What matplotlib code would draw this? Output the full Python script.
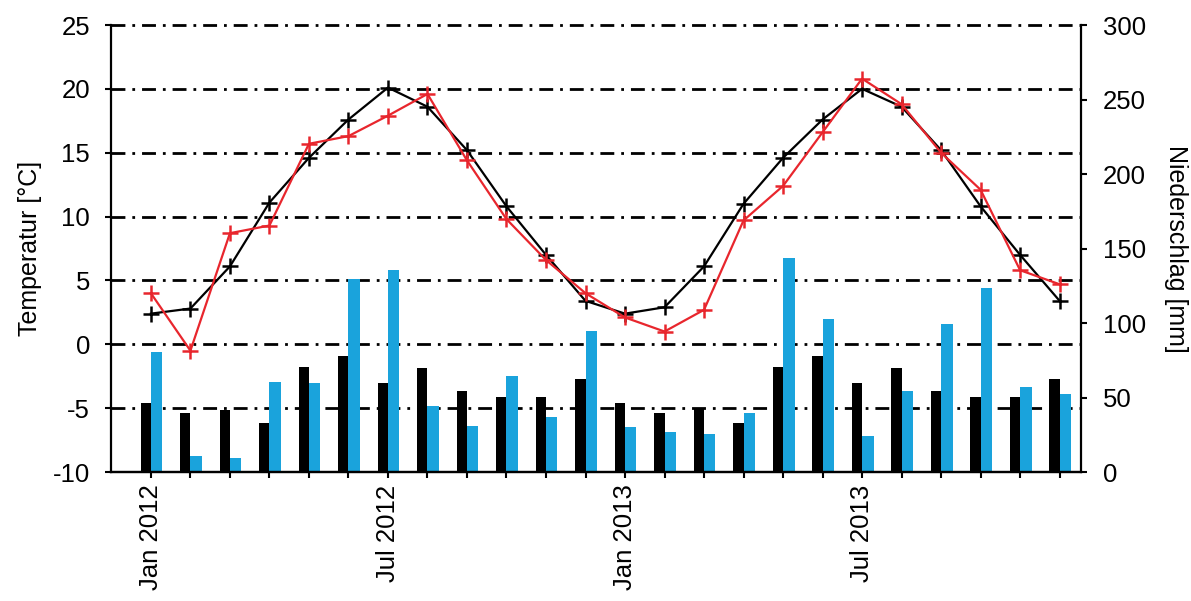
import matplotlib.pyplot as plt
from matplotlib.transforms import blended_transform_factory

plt.switch_backend('agg')
plt.rcParams['font.family'] = ['Liberation Sans', 'DejaVu Sans']
plt.rcParams['axes.unicode_minus'] = False

# Monthly values Jan 2012 .. Dec 2013
months = ['Jan 2012', 'Feb 2012', 'Mar 2012', 'Apr 2012', 'May 2012', 'Jun 2012',
          'Jul 2012', 'Aug 2012', 'Sep 2012', 'Oct 2012', 'Nov 2012', 'Dec 2012',
          'Jan 2013', 'Feb 2013', 'Mar 2013', 'Apr 2013', 'May 2013', 'Jun 2013',
          'Jul 2013', 'Aug 2013', 'Sep 2013', 'Oct 2013', 'Nov 2013', 'Dec 2013']
shown_labels = ['Jan 2012', 'Jul 2012', 'Jan 2013', 'Jul 2013']

# temperature [°C]: long-term mean (black) and measured (red)
temp_mean = [2.4, 2.8, 6.1, 11.1, 14.6, 17.6, 20.1, 18.6, 15.2, 10.8, 7.0, 3.4,
             2.4, 2.9, 6.1, 11.0, 14.6, 17.6, 20.0, 18.6, 15.2, 10.8, 7.0, 3.4]
temp_actual = [4.0, -0.5, 8.7, 9.3, 15.7, 16.3, 17.9, 19.6, 14.4, 9.8, 6.6, 4.0,
               2.1, 1.0, 2.7, 9.7, 12.4, 16.6, 20.8, 18.8, 15.0, 12.1, 5.8, 4.7]

# precipitation [mm]: long-term mean (black) and measured (blue)
precip_mean = [46.5, 39.4, 41.6, 32.7, 70.7, 77.9, 60.0, 69.6, 54.6, 50.5, 50.5, 62.6,
               46.5, 39.4, 42.7, 32.7, 70.7, 77.9, 60.0, 69.6, 54.6, 50.5, 50.5, 62.6]
precip_actual = [80.3, 11.0, 9.2, 60.6, 60.0, 129.3, 135.6, 44.3, 30.9, 64.4, 37.1, 94.8,
                 30.0, 27.1, 25.5, 39.8, 143.4, 102.7, 24.4, 54.6, 99.3, 123.3, 56.8, 52.3]

temp_ticks = [-10, -5, 0, 5, 10, 15, 20, 25]
precip_ticks = [0, 50, 100, 150, 200, 250, 300]

BLUE = '#1aa3dc'
RED = '#e8262d'

fig = plt.figure(figsize=(11.91, 6.01), dpi=100)
ax = fig.add_axes([0.0932, 0.2146, 0.8144, 0.7438])
ax2 = ax.twinx()

# temperature axis on top of the bar axis so the lines cover the bars
ax.set_zorder(2)
ax2.set_zorder(1)
ax.patch.set_visible(False)

x = list(range(len(months)))

# precipitation bars
ax2.bar(x, precip_mean, width=-0.26, align='edge', color='black', zorder=2)
ax2.bar(x, precip_actual, width=0.29, align='edge', color=BLUE, zorder=2)
ax2.set_ylim(0, 300)
ax2.set_yticks(precip_ticks)

# dash-dot grid at the temperature ticks, drawn behind the bars
grid_tf = blended_transform_factory(ax2.transAxes, ax.transData)
for t in temp_ticks[1:]:
    ax2.plot([0, 1], [t, t], transform=grid_tf, color='black', linewidth=2.0,
             linestyle=(0, (5, 2.5, 1, 2.5)), zorder=1, clip_on=False)

# temperature lines
ax.plot(x, temp_mean, color='black', linewidth=1.6, marker='+', markersize=11,
        markeredgewidth=1.8, zorder=3)
ax.plot(x, temp_actual, color=RED, linewidth=1.6, marker='+', markersize=11,
        markeredgewidth=1.8, zorder=4)

ax.set_ylim(-10, 25)
ax.set_yticks(temp_ticks)
ax.set_xlim(-1.01, 23.54)
ax.set_xticks(x)
ax.set_xticklabels([m if m in shown_labels else '' for m in months], rotation=90)

ax.set_ylabel('Temperatur [°C]', fontsize=18, labelpad=8)
ax2.set_ylabel('Niederschlag [mm]', fontsize=18, rotation=-90, labelpad=30)

for a in (ax, ax2):
    a.spines['top'].set_visible(False)
    for s in a.spines.values():
        s.set_linewidth(1.6)
    a.tick_params(direction='out', length=4, width=1.5, labelsize=18.5)
ax.spines['right'].set_visible(False)
ax2.spines['left'].set_visible(False)
ax.tick_params(axis='y', pad=11)
ax2.tick_params(axis='y', pad=12)
ax.tick_params(axis='x', pad=5)

fig.savefig('out.png', dpi=100)
plt.close(fig)
